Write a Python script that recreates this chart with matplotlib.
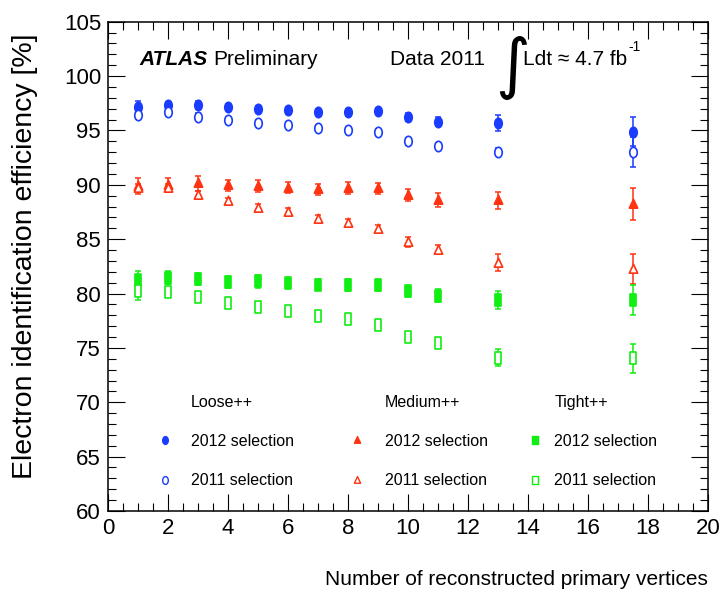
import matplotlib
matplotlib.use("Agg")
import matplotlib.pyplot as plt
from matplotlib.legend import Legend
from matplotlib.lines import Line2D
from matplotlib.path import Path
from matplotlib.ticker import MultipleLocator
from matplotlib.transforms import Affine2D

plt.rcParams['font.family'] = ['Liberation Sans', 'DejaVu Sans']

nvtx = [1, 2, 3, 4, 5, 6, 7, 8, 9, 10, 11, 13, 17.5]

loose_2012 = [97.2, 97.33, 97.36, 97.15, 96.97, 96.85, 96.72, 96.72, 96.79, 96.24, 95.82, 95.7, 94.9]
loose_2012_err = [0.55, 0.3, 0.35, 0.3, 0.3, 0.3, 0.3, 0.3, 0.3, 0.35, 0.45, 0.75, 1.35]
loose_2011 = [96.4, 96.66, 96.27, 95.94, 95.7, 95.5, 95.24, 95.06, 94.85, 94.0, 93.57, 93.06, 93.0]
loose_2011_err = [0.3, 0.3, 0.3, 0.3, 0.3, 0.3, 0.3, 0.3, 0.3, 0.3, 0.3, 0.35, 1.4]

medium_2012 = [89.9, 90.0, 90.15, 89.94, 89.85, 89.75, 89.6, 89.7, 89.7, 89.03, 88.64, 88.57, 88.24]
medium_2012_err = [0.75, 0.65, 0.7, 0.5, 0.55, 0.5, 0.5, 0.55, 0.5, 0.55, 0.65, 0.8, 1.45]
medium_2011 = [89.75, 89.75, 89.09, 88.48, 87.87, 87.48, 86.9, 86.5, 85.97, 84.76, 84.03, 82.85, 82.27]
medium_2011_err = [0.35, 0.35, 0.35, 0.35, 0.35, 0.35, 0.35, 0.35, 0.35, 0.45, 0.4, 0.8, 1.35]

tight_2012 = [81.2, 81.45, 81.33, 81.03, 81.12, 80.97, 80.8, 80.8, 80.76, 80.2, 79.8, 79.4, 79.4]
tight_2012_err = [0.85, 0.6, 0.55, 0.55, 0.6, 0.5, 0.5, 0.55, 0.5, 0.5, 0.6, 0.85, 1.35]
tight_2011 = [80.2, 80.1, 79.7, 79.1, 78.73, 78.4, 77.97, 77.7, 77.12, 76.0, 75.45, 74.1, 74.03]
tight_2011_err = [0.75, 0.4, 0.45, 0.45, 0.45, 0.45, 0.45, 0.45, 0.45, 0.5, 0.45, 0.8, 1.3]

blue = "#1a3cff"
red = "#ff3311"
green = "#11ee11"

# ROOT output is stretched vertically, so markers are a bit taller than wide
circle = Path.unit_circle().transformed(Affine2D().scale(0.72, 1.0))
triangle = Path([(-0.8, -0.7), (0.8, -0.7), (0.0, 1.0), (-0.8, -0.7)],
                [Path.MOVETO, Path.LINETO, Path.LINETO, Path.CLOSEPOLY])
square = Path([(-0.62, -1), (0.62, -1), (0.62, 1), (-0.62, 1), (-0.62, -1)],
              [Path.MOVETO, Path.LINETO, Path.LINETO, Path.LINETO, Path.CLOSEPOLY])

fig = plt.figure(figsize=(7.2, 6.04), dpi=100)
ax = fig.add_axes([0.15, 0.154, 0.833, 0.81])

series = [
    (loose_2012, loose_2012_err, circle, blue, True, 7.5),
    (loose_2011, loose_2011_err, circle, blue, False, 7.5),
    (medium_2012, medium_2012_err, triangle, red, True, 7.5),
    (medium_2011, medium_2011_err, triangle, red, False, 7.5),
    (tight_2012, tight_2012_err, square, green, True, 8),
    (tight_2011, tight_2011_err, square, green, False, 8),
]
handles = []
for vals, errs, mk, col, filled, ms in series:
    ax.errorbar(nvtx, vals, yerr=errs, fmt='none', ecolor=col, elinewidth=1.1,
                capsize=2.2, capthick=1.1, zorder=2)
    ax.plot(nvtx, vals, linestyle='none', marker=mk, markersize=ms,
            markerfacecolor=col if filled else 'white', markeredgecolor=col,
            markeredgewidth=1.2, zorder=3)
    handles.append(Line2D([], [], linestyle='none', marker=mk, markersize=ms * 0.75,
                          markerfacecolor=col if filled else 'white',
                          markeredgecolor=col, markeredgewidth=1.0))

ax.set_xlim(0, 20)
ax.set_ylim(60, 105)
ax.xaxis.set_major_locator(MultipleLocator(2))
ax.xaxis.set_minor_locator(MultipleLocator(0.5))
ax.yaxis.set_major_locator(MultipleLocator(5))
ax.yaxis.set_minor_locator(MultipleLocator(1))
ax.tick_params(which='both', direction='in', top=True, right=True, width=0.8)
ax.tick_params(which='major', length=12, labelsize=16)
ax.tick_params(axis='x', which='major', pad=5)
ax.tick_params(axis='y', which='major', pad=5)
ax.tick_params(which='minor', length=5.5)
for sp in ax.spines.values():
    sp.set_linewidth(1.1)

ax.text(1.0, -0.141, "Number of reconstructed primary vertices", transform=ax.transAxes,
        ha='right', va='center', fontsize=15)
ax.text(-0.138, 0.975, "Electron identification efficiency [%]", transform=ax.transAxes,
        rotation=90, ha='center', va='top', fontsize=20.5)

atlas = ax.text(0.053, 0.922, "ATLAS", transform=ax.transAxes, ha='left', va='center',
                fontsize=15, fontweight='bold', fontstyle='italic')
ax.annotate("Preliminary", xy=(1.0, 0.5), xycoords=atlas, xytext=(4, 0),
            textcoords='offset points', ha='left', va='center', fontsize=15)
ax.text(0.47, 0.922, "Data 2011", transform=ax.transAxes, ha='left', va='center',
        fontsize=15)
ax.text(0.672, 0.905, r"$\int$", transform=ax.transAxes, ha='center', va='center',
        fontsize=34)
lum = ax.text(0.692, 0.922, "Ldt \u2248 4.7 fb", transform=ax.transAxes, ha='left',
              va='center', fontsize=15)
ax.annotate("-1", xy=(1.0, 0.8), xycoords=lum, xytext=(1, 0), textcoords='offset points',
            ha='left', va='bottom', fontsize=10)

blank = Line2D([], [], linestyle='none', marker='none')
# name, first handle, handle left edge (axes frac), top (axes frac), handle-text pad
groups = [("Loose++", 0, 0.0817, 0.238, 1.12),
          ("Medium++", 2, 0.4017, 0.238, 1.25),
          ("Tight++", 4, 0.699, 0.238, 0.7)]
for name, i, x0, y0, pad in groups:
    leg = Legend(ax, [blank, handles[i], handles[i + 1]],
                 [name, "2012 selection", "2011 selection"],
                 loc='upper left', bbox_to_anchor=(x0, y0), bbox_transform=ax.transAxes,
                 frameon=False, fontsize=11.5, handlelength=1.0, handletextpad=pad,
                 labelspacing=1.52, borderpad=0, borderaxespad=0)
    ax.add_artist(leg)

fig.savefig("out.png", dpi=100)
